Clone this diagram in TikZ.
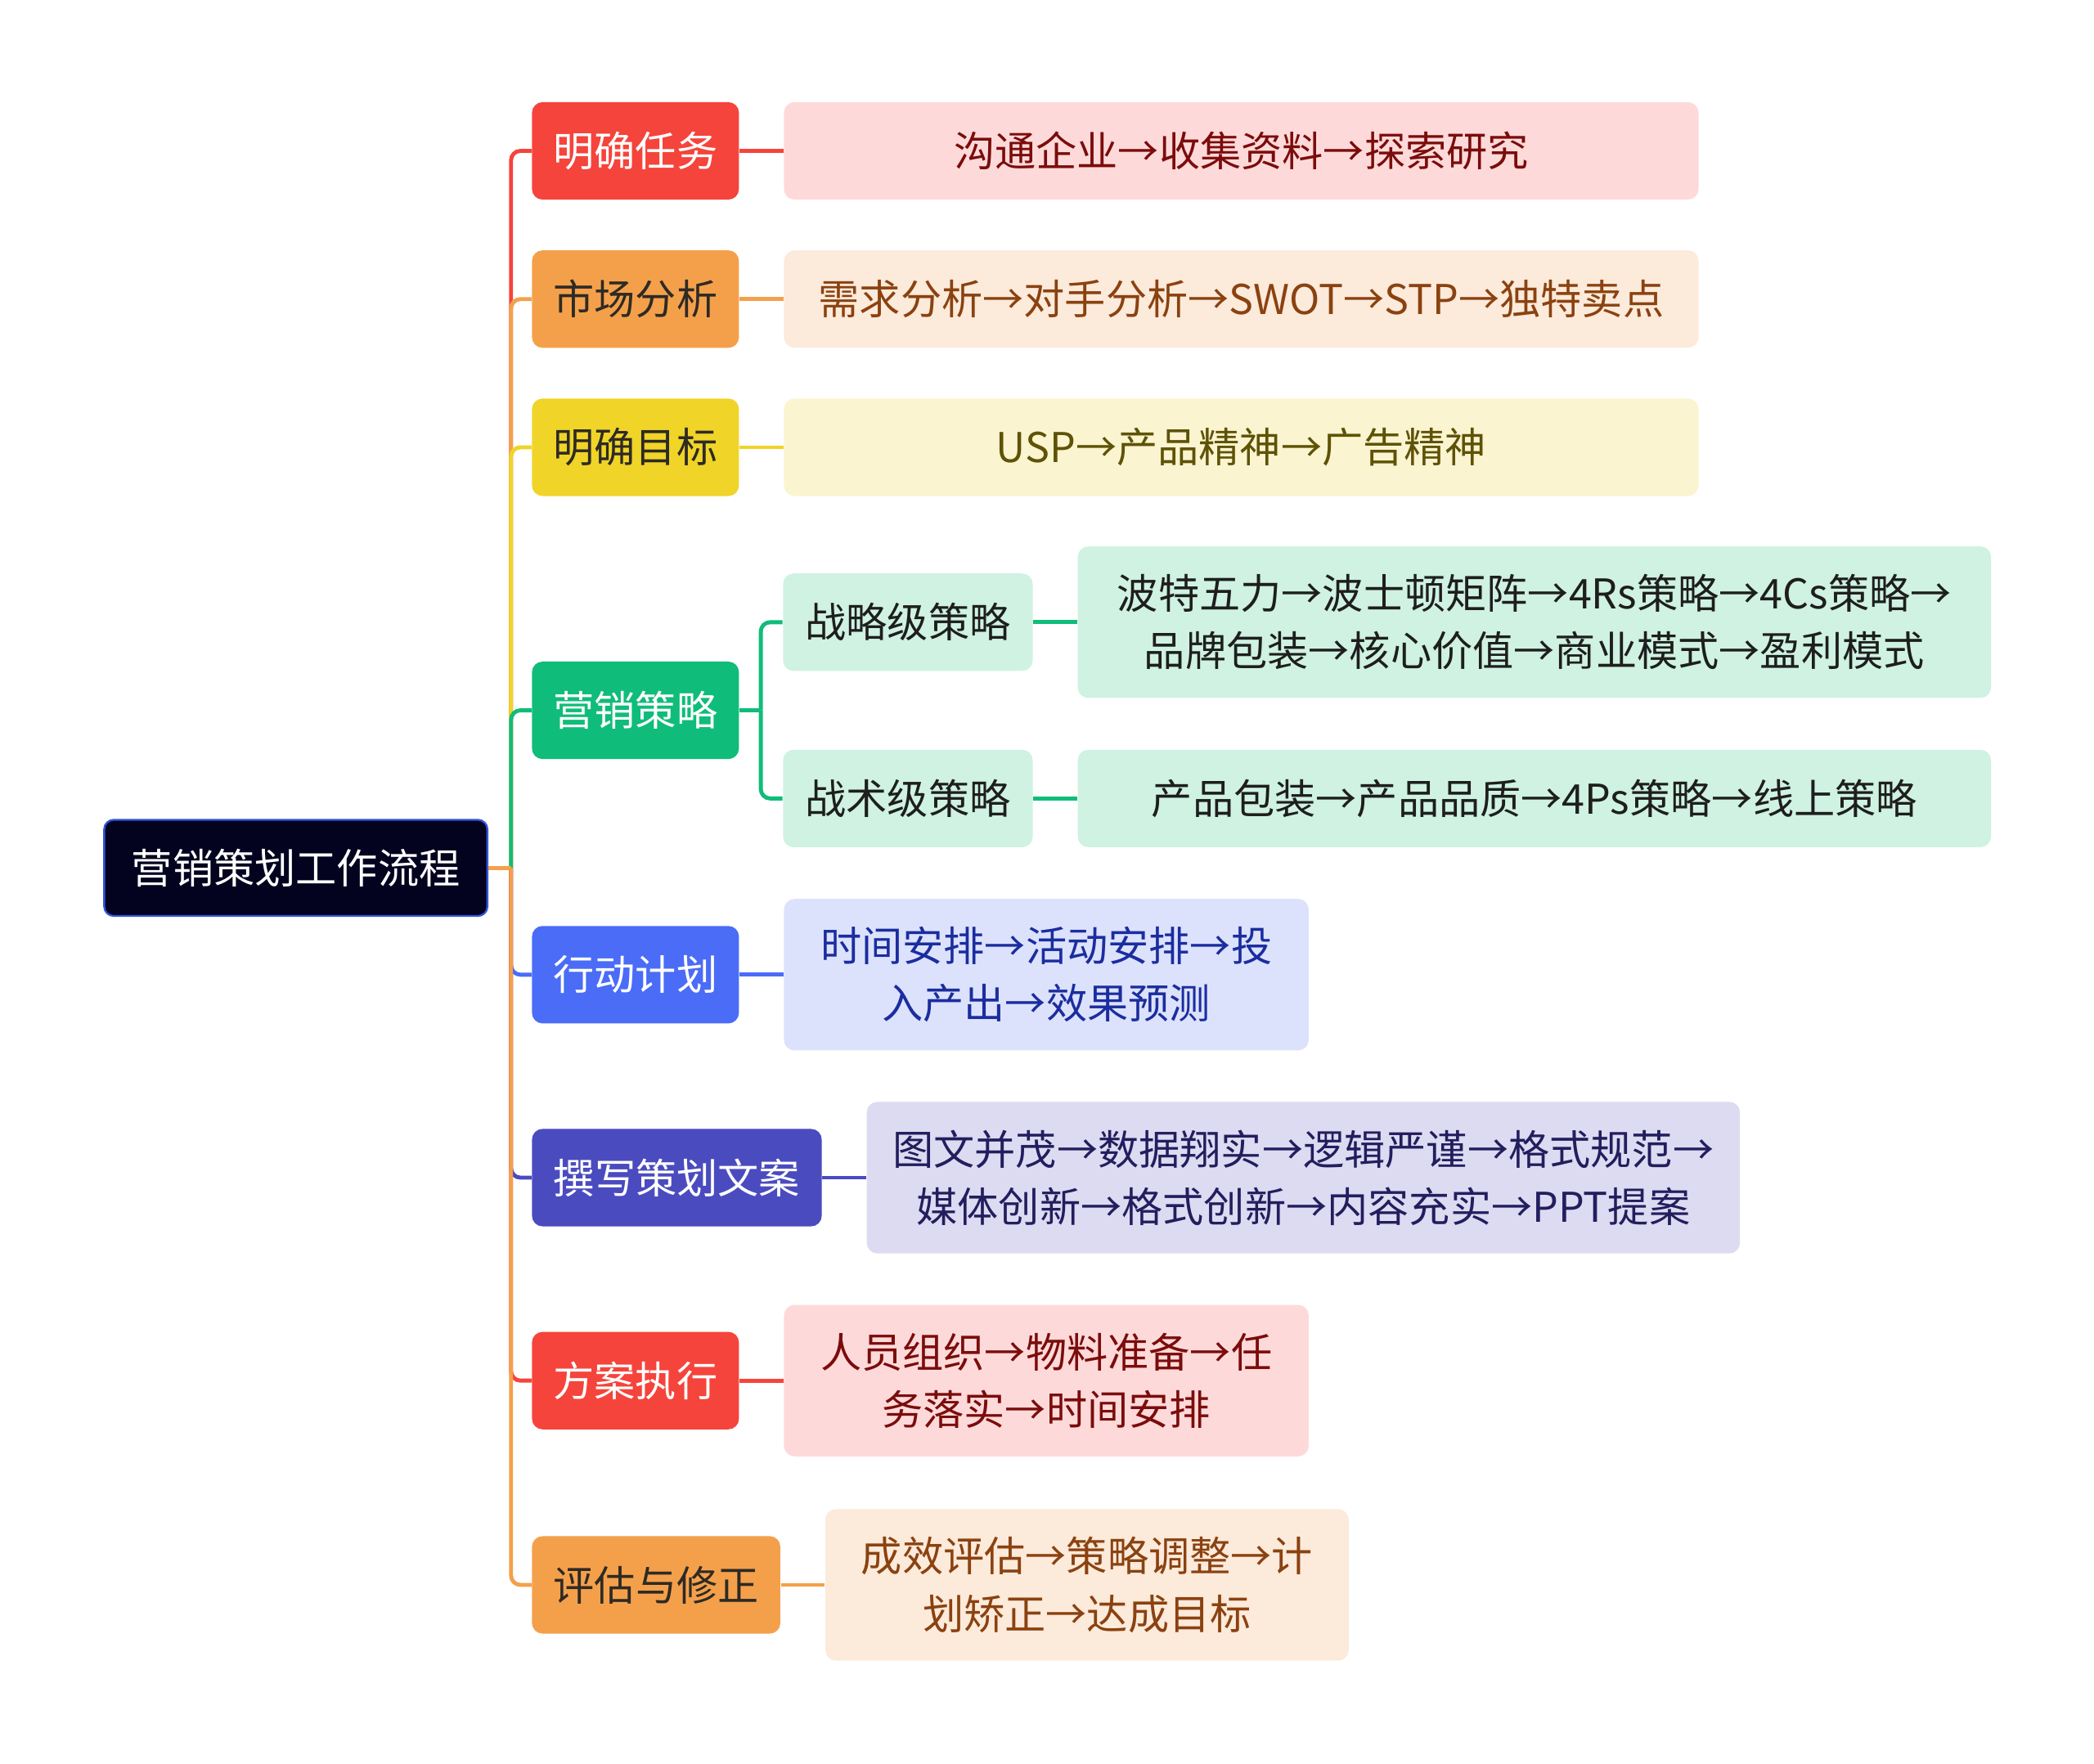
\documentclass[tikz,border=0pt]{standalone}
\usepackage{fontspec}
\setmainfont{Noto Sans CJK SC}
\usetikzlibrary{positioning}
\definecolor{rootbg}{HTML}{03031F}
\definecolor{rootline}{HTML}{3355DD}
\definecolor{redc}{HTML}{F5443B}
\definecolor{redl}{HTML}{FDDAD9}
\definecolor{redt}{HTML}{7B0C0C}
\definecolor{orac}{HTML}{F4A04B}
\definecolor{oral}{HTML}{FCEADB}
\definecolor{orat}{HTML}{8A4210}
\definecolor{yelc}{HTML}{F0D428}
\definecolor{yell}{HTML}{FBF4D0}
\definecolor{yelt}{HTML}{5E5206}
\definecolor{grnc}{HTML}{10BC79}
\definecolor{grnl}{HTML}{CFF2E2}
\definecolor{grnt}{HTML}{1E1E1E}
\definecolor{bluc}{HTML}{4A6CF7}
\definecolor{blul}{HTML}{DCE2FC}
\definecolor{blut}{HTML}{1B2D9E}
\definecolor{indc}{HTML}{4B4BC0}
\definecolor{indl}{HTML}{DDDBF1}
\definecolor{indt}{HTML}{221E5E}
\definecolor{dark}{HTML}{2E2A24}
\newcommand{\mapfont}{\fontsize{17.5}{24.5}\selectfont}

\begin{document}
\begin{tikzpicture}[x=0.02cm, y=-0.02cm,
  conn/.style={line width=1.7pt},
  elbow/.style={conn, rounded corners=4pt},
  root/.style={draw=rootline, line width=0.8pt, fill=rootbg, text=white,
               rounded corners=4pt, minimum width=5.74cm, minimum height=1.44cm,
               inner sep=0pt, font=\mapfont},
  topic/.style={rounded corners=4.5pt, minimum width=3.1cm, minimum height=1.46cm,
                inner sep=0pt, anchor=west, font=\mapfont},
  leaf/.style={rounded corners=4.5pt, minimum height=1.46cm, align=center,
               inner sep=0pt, font=\mapfont},
  tall/.style={leaf, minimum height=2.27cm}
]

\useasboundingbox (0,0) rectangle (1568,1321);

\node[root] (root) at (221.5,650) {营销策划工作流程};

\node[topic, fill=redc, text=white] (task) at (398,113) {明确任务};
\node[topic, fill=orac, text=dark] (market) at (398,224) {市场分析};
\node[topic, fill=yelc, text=dark] (goal) at (398,335) {明确目标};
\node[topic, fill=grnc, text=white] (strat) at (398,532) {营销策略};
\node[topic, fill=bluc, text=white] (plan) at (398,730) {行动计划};
\node[topic, fill=indc, text=white, minimum width=4.34cm] (write) at (398,882) {撰写策划文案};
\node[topic, fill=redc, text=white] (exec) at (398,1034) {方案执行};
\node[topic, fill=orac, text=dark, minimum width=3.72cm] (review) at (398,1187) {评估与修正};

\node[leaf, fill=redl, text=redt, minimum width=13.7cm, right=0.66cm of task] (taskl)
  {沟通企业→收集资料→探索研究};
\node[leaf, fill=oral, text=orat, minimum width=13.7cm, right=0.66cm of market] (marketl)
  {需求分析→对手分析→SWOT→STP→独特卖点};
\node[leaf, fill=yell, text=yelt, minimum width=13.7cm, right=0.66cm of goal] (goall)
  {USP→产品精神→广告精神};

\node[topic, fill=grnl, text=grnt, minimum width=3.74cm] (level) at (586,466) {战略级策略};
\node[topic, fill=grnl, text=grnt, minimum width=3.74cm] (tactic) at (586,598) {战术级策略};
\node[tall, fill=grnl, text=grnt, minimum width=13.68cm, right=0.66cm of level] (levell)
  {波特五力→波士顿矩阵→4Rs策略→4Cs策略→\\品牌包装→核心价值→商业模式→盈利模式};
\node[leaf, fill=grnl, text=grnt, minimum width=13.68cm, right=0.66cm of tactic] (tacticl)
  {产品包装→产品品质→4Ps策略→线上策略};

\node[tall, fill=blul, text=blut, minimum width=7.86cm, right=0.66cm of plan] (planl)
  {时间安排→活动安排→投\\入产出→效果预测};
\node[tall, fill=indl, text=indt, minimum width=13.08cm, right=0.66cm of write] (writel)
  {图文并茂→数据翔实→逻辑严谨→格式规范→\\媒体创新→格式创新→内容充实→PPT提案};
\node[tall, fill=redl, text=redt, minimum width=7.86cm, right=0.66cm of exec] (execl)
  {人员组织→物料准备→任\\务落实→时间安排};
\node[tall, fill=oral, text=orat, minimum width=7.84cm, right=0.66cm of review] (reviewl)
  {成效评估→策略调整→计\\划矫正→达成目标};

\coordinate (hub) at ([xshift=0.34cm]root.east);
\draw[elbow, redc] (hub) |- (task.west);
\draw[elbow, orac] (hub) |- (market.west);
\draw[elbow, yelc] (hub) |- (goal.west);
\draw[elbow, grnc] (hub) |- (strat.west);
\draw[elbow, bluc] (hub) |- (plan.west);
\draw[elbow, indc] (hub) |- (write.west);
\draw[elbow, redc] (hub) |- (exec.west);
\draw[elbow, orac] (hub) |- (review.west);
\draw[conn, orac] (root.east) -- (hub);

\coordinate (fork) at ([xshift=0.32cm]strat.east);
\draw[conn, grnc] (strat.east) -- (fork);
\draw[elbow, grnc] (fork) |- (level.west);
\draw[elbow, grnc] (fork) |- (tactic.west);

\draw[conn, redc] (task) -- (taskl);
\draw[conn, orac] (market) -- (marketl);
\draw[conn, yelc] (goal) -- (goall);
\draw[conn, grnc] (level) -- (levell);
\draw[conn, grnc] (tactic) -- (tacticl);
\draw[conn, bluc] (plan) -- (planl);
\draw[conn, indc] (write) -- (writel);
\draw[conn, redc] (exec) -- (execl);
\draw[conn, orac] (review) -- (reviewl);

\end{tikzpicture}
\end{document}
